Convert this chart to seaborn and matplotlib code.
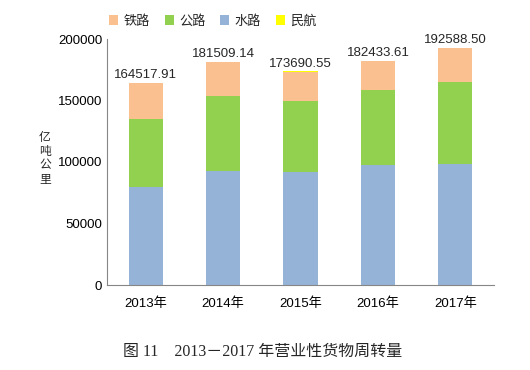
import numpy as np
import pandas as pd
import seaborn as sns
import matplotlib
matplotlib.use('Agg')
import matplotlib.pyplot as plt
from matplotlib.patches import Patch

# 数据
years = ['2013年', '2014年', '2015年', '2016年', '2017年']
shuilu = [79435.65, 92774.56, 91772.45, 97338.80, 98611.25]
gonglu = [55738.08, 61016.62, 57955.72, 61080.10, 66771.52]
tielu = [29173.89, 27530.19, 23754.31, 23792.26, 26962.20]
minhang = [170.29, 187.77, 208.07, 222.45, 243.55]
totals = [164517.91, 181509.14, 173690.55, 182433.61, 192588.50]

colors = {'铁路': '#FAC090', '公路': '#92D050', '水路': '#95B3D7', '民航': '#FFFF00'}

sns.set_style('white')
plt.rcParams['font.family'] = ['Liberation Sans', 'Noto Sans CJK SC']
plt.rcParams['axes.unicode_minus'] = False

df = pd.DataFrame({'year': years, '水路': shuilu, '公路': gonglu,
                   '铁路': tielu, '民航': minhang})
df['c_gong'] = df['水路'] + df['公路']
df['c_tie'] = df['c_gong'] + df['铁路']
df['c_min'] = df['c_tie'] + df['民航']

fig = plt.figure(figsize=(5.3, 3.7), dpi=100)
ax = fig.add_axes([107 / 530, 1 - 285 / 370, 387 / 530, 246 / 370])

# 叠加画累计值
for col, name in [('c_min', '民航'), ('c_tie', '铁路'), ('c_gong', '公路'), ('水路', '水路')]:
    sns.barplot(data=df, x='year', y=col, color=colors[name], width=0.44,
                saturation=1, ax=ax, linewidth=0)

for i, t in enumerate(totals):
    ax.text(i, df['c_min'][i] + 1500, '%.2f' % t, ha='center', va='bottom', fontsize=9.5)

ax.set_xlim(-0.5, 4.5)
ax.set_ylim(0, 200000)
ax.set_yticks([0, 50000, 100000, 150000, 200000])
ax.set_xlabel('')
ax.set_ylabel('')
ax.tick_params(axis='both', labelsize=9.5, colors='#868686', labelcolor='black',
               direction='in', length=3, width=0.8)
ax.tick_params(axis='x', length=0, pad=9)
ax.set_xticks([0.5, 1.5, 2.5, 3.5, 4.5], minor=True)
ax.tick_params(axis='x', which='minor', direction='in', length=3, color='#868686', width=0.8)
for s in ['top', 'right']:
    ax.spines[s].set_visible(False)
for s in ['left', 'bottom']:
    ax.spines[s].set_color('#868686')
    ax.spines[s].set_linewidth(0.8)

fig.text(45 / 530, 1 - 158 / 370, '亿\n吨\n公\n里', ha='center', va='center',
         fontsize=8.5, linespacing=1.1, family=['Noto Sans CJK SC'])

handles = [Patch(facecolor=colors[n], edgecolor='none') for n in ['铁路', '公路', '水路', '民航']]
fig.legend(handles, ['铁路', '公路', '水路', '民航'], loc='center', ncol=4,
           bbox_to_anchor=(213 / 530, 1 - 21 / 370), frameon=False,
           handlelength=0.7, handleheight=0.7, handletextpad=0.4, columnspacing=1.1,
           prop={'family': ['Noto Sans CJK SC'], 'size': 9.5})

fig.text(263 / 530, 1 - 352 / 370, '图 11    2013－2017 年营业性货物周转量', ha='center', va='center',
         fontsize=11.5, family=['Liberation Serif', 'Noto Sans CJK SC'])

fig.savefig('out.png', dpi=100)
